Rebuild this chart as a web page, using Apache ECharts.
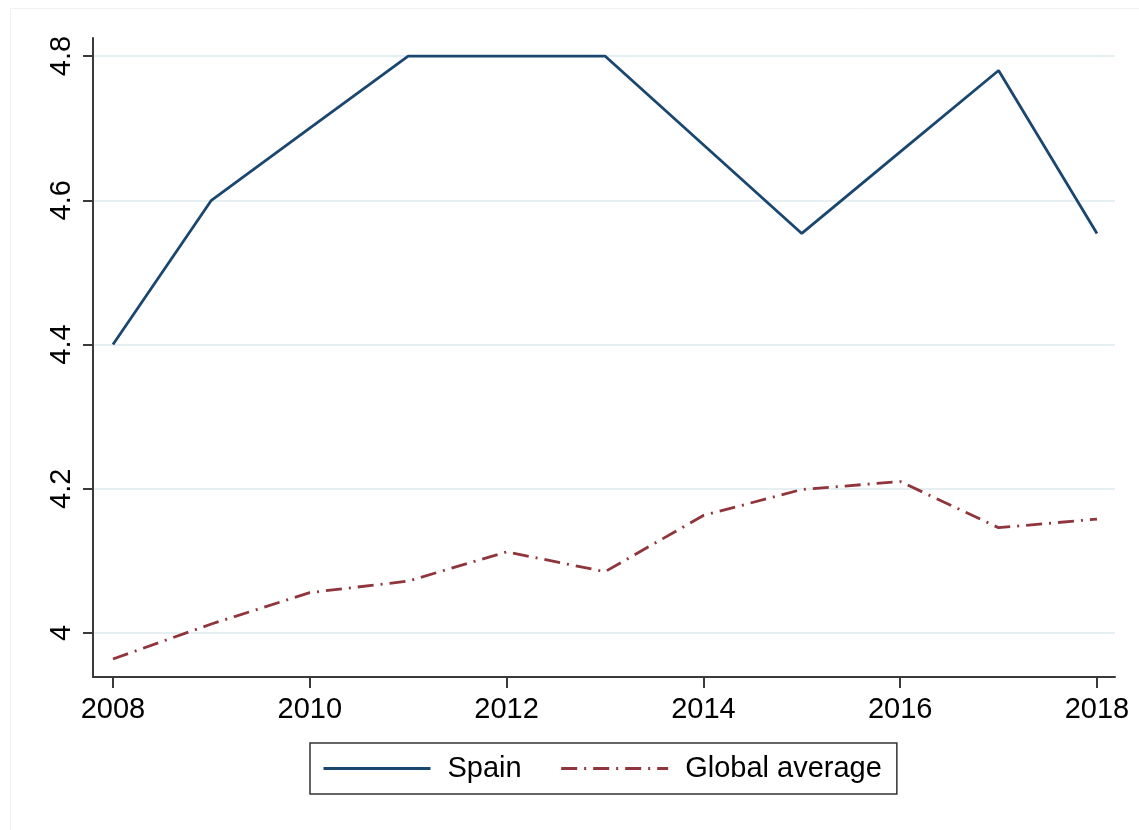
<!DOCTYPE html>
<html>
<head>
<meta charset="utf-8">
<script src="https://cdn.jsdelivr.net/npm/echarts@6/dist/echarts.min.js"></script>
<style>
  html, body { margin: 0; padding: 0; background: #fff; }
  #chart { width: 1139px; height: 830px; }
</style>
</head>
<body>
<div id="chart"></div>
<script>
// data
var years = [2008, 2009, 2010, 2011, 2012, 2013, 2014, 2015, 2016, 2017, 2018];
var spain = [4.40, 4.60, 4.70, 4.80, 4.80, 4.80, 4.677, 4.554, 4.667, 4.78, 4.554];
var globalAvg = [3.964, 4.0125, 4.056, 4.072, 4.1125, 4.085, 4.163, 4.199, 4.21, 4.146, 4.158];
var xTicks = [2008, 2010, 2012, 2014, 2016, 2018];
var yTicks = [4, 4.2, 4.4, 4.6, 4.8];

var font = 'Liberation Sans, Arial, sans-serif';

function pairs(xs, ys) {
  return xs.map(function (x, i) { return [x, ys[i]]; });
}

var chart = echarts.init(document.getElementById('chart'));

var option = {
  backgroundColor: '#fff',
  animation: false,
  graphic: [{
    type: 'rect',
    shape: { x: 10.5, y: 8.5, width: 1140, height: 840 },
    style: { fill: 'none', stroke: '#f2f2f2', lineWidth: 1 },
    silent: true
  }],
  grid: { left: 93, right: 24, top: 38, bottom: 153 },
  xAxis: {
    type: 'value',
    min: 2007.797,
    max: 2018.183,
    axisLine: { show: true, onZero: false, lineStyle: { color: '#3a3a3a', width: 2 } },
    axisTick: { show: true, length: 11, customValues: xTicks, lineStyle: { color: '#3a3a3a', width: 2 } },
    axisLabel: {
      customValues: xTicks, margin: 18, fontSize: 29, color: '#000', fontFamily: font,
      formatter: function (v) { return String(v); }
    },
    splitLine: { show: false }
  },
  yAxis: {
    type: 'value',
    min: 3.939,
    max: 4.825,
    axisLine: { show: true, onZero: false, lineStyle: { color: '#3a3a3a', width: 2 } },
    axisTick: { show: true, length: 10, customValues: yTicks, lineStyle: { color: '#3a3a3a', width: 2 } },
    axisLabel: { customValues: yTicks, rotate: 90, margin: 17, fontSize: 29, color: '#000', fontFamily: font },
    splitLine: { show: true, lineStyle: { color: '#e6eff2', width: 2 } }
  },
  legend: {
    left: 310,
    top: 743,
    orient: 'horizontal',
    padding: [11, 15, 11, 12],
    borderColor: '#333',
    borderWidth: 1.5,
    borderRadius: 0,
    itemWidth: 107,
    itemHeight: 28,
    itemGap: 38,
    itemStyle: { opacity: 0 },
    lineStyle: { width: 3 },
    textStyle: { fontSize: 29, color: '#000', fontFamily: font, padding: [0, 0, 0, 12] },
    data: ['Spain', 'Global average']
  },
  series: [
    {
      name: 'Spain',
      type: 'line',
      data: pairs(years, spain),
      symbol: 'none',
      z: 3,
      lineStyle: { color: '#1a476f', width: 2.8 },
      itemStyle: { color: '#1a476f' }
    },
    {
      name: 'Global average',
      type: 'line',
      data: pairs(years, globalAvg),
      symbol: 'none',
      z: 3,
      lineStyle: { color: '#90353b', width: 2.8, type: [16, 7, 2, 7] },
      itemStyle: { color: '#90353b' }
    }
  ]
};

chart.setOption(option);
</script>
</body>
</html>
